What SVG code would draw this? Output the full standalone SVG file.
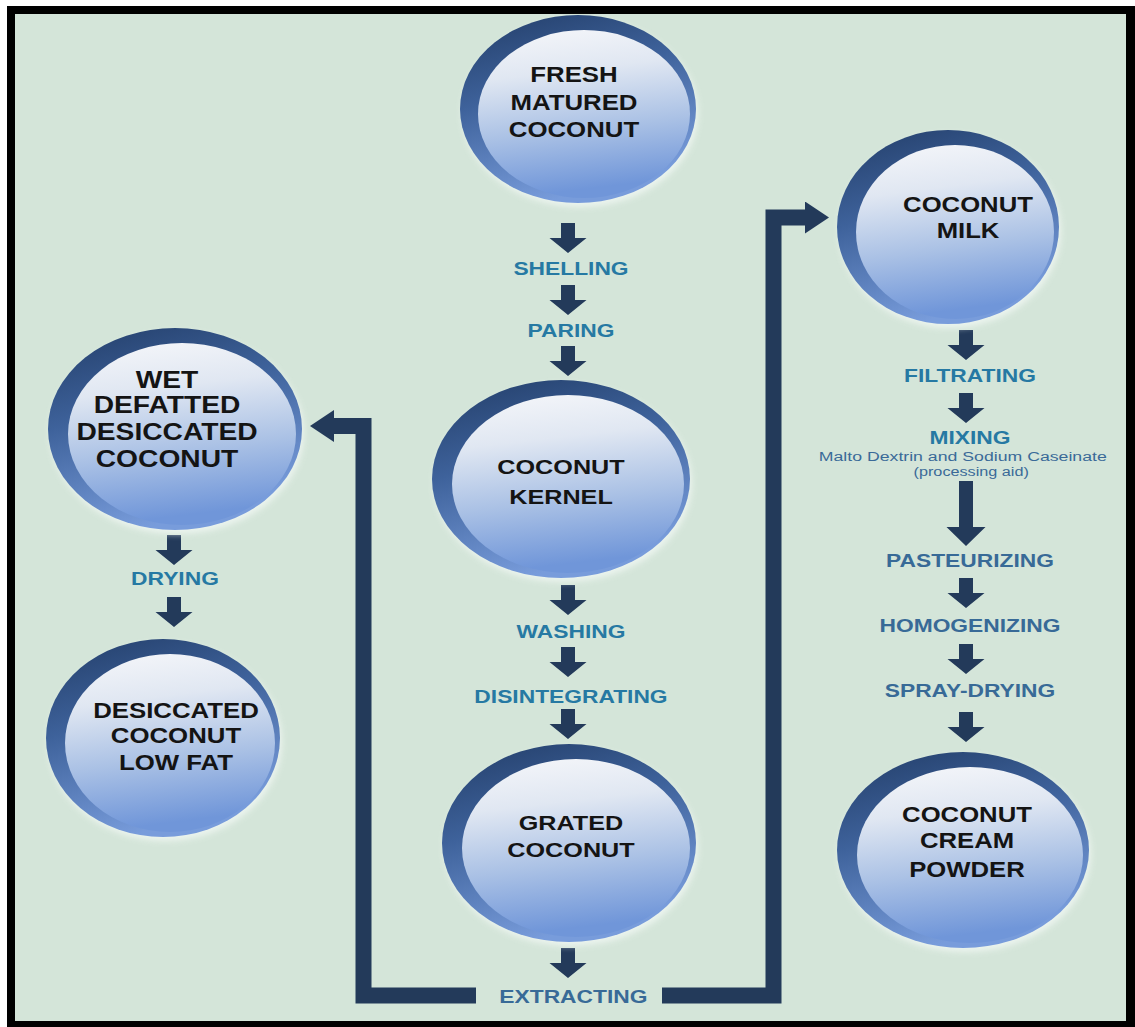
<svg xmlns="http://www.w3.org/2000/svg" width="1135" height="1027" viewBox="0 0 1135 1027">
<style>
.nt{font-family:"Liberation Sans",Arial,sans-serif;font-weight:bold;fill:#141414;text-anchor:middle}
.lb{font-family:"Liberation Sans",Arial,sans-serif;font-weight:bold;font-size:19px;fill:#2679a3;text-anchor:middle}
.lb2{font-family:"Liberation Sans",Arial,sans-serif;font-weight:bold;font-size:19px;fill:#386a97;text-anchor:middle}
.sm{font-family:"Liberation Sans",Arial,sans-serif;font-size:13.5px;fill:#3a6a98;text-anchor:middle}
.rim{fill:url(#rimG)}
.face{fill:url(#faceG)}
.glow{fill:#f2f8f4;opacity:0.8;filter:url(#blur)}
.arr{fill:#233a5a}
.conn{fill:none;stroke:#233a5a;stroke-width:16;stroke-linejoin:miter}
</style>
<defs>
<linearGradient id="rimG" x1="0" y1="0" x2="0.35" y2="1">
<stop offset="0" stop-color="#223d68"/>
<stop offset="0.45" stop-color="#3e629b"/>
<stop offset="1" stop-color="#789cdb"/>
</linearGradient>
<linearGradient id="faceG" x1="0" y1="0" x2="0.15" y2="1">
<stop offset="0" stop-color="#f6f7fa"/>
<stop offset="0.3" stop-color="#e0e7f2"/>
<stop offset="0.65" stop-color="#aac1e5"/>
<stop offset="1" stop-color="#7096d9"/>
</linearGradient>
<filter id="blur" x="-10%" y="-10%" width="120%" height="120%"><feGaussianBlur stdDeviation="3"/></filter>
<path id="dn" d="M-7,0 H7 V15 H18.5 L0,30 L-18.5,15 H-7 Z"/>
<marker id="ah" viewBox="0 0 24 32" refX="1" refY="16" markerWidth="24" markerHeight="32" markerUnits="userSpaceOnUse" orient="auto">
<path d="M0,0 L24,16 L0,32 Z" fill="#233a5a"/>
</marker>
</defs>

<rect x="0" y="0" width="1135" height="1027" fill="#ffffff"/>
<rect x="7" y="6" width="1128" height="1021" fill="#000000"/>
<rect x="15" y="14" width="1111" height="1007" fill="#d4e5d9"/>

<g id="connectors">
<polyline class="conn" points="476,995.5 363.5,995.5 363.5,426 333,426" marker-end="url(#ah)"/>
<polyline class="conn" points="662,995.5 773.5,995.5 773.5,217.5 806,217.5" marker-end="url(#ah)"/>
<use href="#dn" class="arr" x="568" y="223"/>
<use href="#dn" class="arr" x="568" y="285"/>
<use href="#dn" class="arr" x="568" y="346"/>
<use href="#dn" class="arr" x="568" y="585"/>
<use href="#dn" class="arr" x="568" y="647"/>
<use href="#dn" class="arr" x="568" y="709"/>
<use href="#dn" class="arr" x="568" y="948"/>
<use href="#dn" class="arr" x="966" y="330"/>
<use href="#dn" class="arr" x="966" y="393"/>
<path class="arr" d="M959,481 H973 V527 H985.5 L966,546 L946.5,527 H959 Z"/>
<use href="#dn" class="arr" x="966" y="578"/>
<use href="#dn" class="arr" x="966" y="644"/>
<use href="#dn" class="arr" x="966" y="712"/>
<use href="#dn" class="arr" x="174" y="535"/>
<use href="#dn" class="arr" x="174" y="597"/>
</g>

<g id="labels">
<g transform="matrix(1.2,0,0,1,-114.2,0)">
<text class="lb" x="571" y="275">SHELLING</text>
<text class="lb" x="571" y="337">PARING</text>
<text class="lb" x="571" y="638">WASHING</text>
<text class="lb" x="571" y="703">DISINTEGRATING</text>
<text class="lb2" x="573" y="1003">EXTRACTING</text>
</g>
<g transform="matrix(1.2,0,0,1,-35,0)">
<text class="lb" x="175" y="585">DRYING</text>
</g>
<g transform="matrix(1.2,0,0,1,-194,0)">
<text class="lb" x="970" y="382">FILTRATING</text>
<text class="lb" x="970" y="444">MIXING</text>
<text class="sm" x="964" y="461" textLength="240" lengthAdjust="spacingAndGlyphs">Malto Dextrin and Sodium Caseinate</text>
<text class="sm" x="971" y="476">(processing aid)</text>
<text class="lb2" x="970" y="567">PASTEURIZING</text>
<text class="lb2" x="970" y="632">HOMOGENIZING</text>
<text class="lb2" x="970" y="697">SPRAY-DRYING</text>
</g>
</g>

<g id="n-fresh">
<ellipse class="glow" cx="580" cy="113" rx="118" ry="94"/>
<ellipse class="rim" cx="578" cy="109" rx="118" ry="94"/>
<ellipse class="face" cx="584" cy="114" rx="106" ry="84"/>
<g transform="matrix(1.2,0,0,1,-114.8,0)">
<text class="nt" font-size="21.5" x="574" y="82">FRESH</text>
<text class="nt" font-size="21.5" x="574" y="110">MATURED</text>
<text class="nt" font-size="21.5" x="574" y="137">COCONUT</text>
</g>
</g>

<g id="n-milk">
<ellipse class="glow" cx="950" cy="231" rx="111" ry="97"/>
<ellipse class="rim" cx="948" cy="227" rx="111" ry="97"/>
<ellipse class="face" cx="955" cy="232" rx="99" ry="87"/>
<g transform="matrix(1.2,0,0,1,-193.6,0)">
<text class="nt" font-size="21.4" x="968" y="212">COCONUT</text>
<text class="nt" font-size="21.4" x="968" y="238">MILK</text>
</g>
</g>

<g id="n-wet">
<ellipse class="glow" cx="177" cy="433" rx="127" ry="101"/>
<ellipse class="rim" cx="175" cy="429" rx="127" ry="101"/>
<ellipse class="face" cx="182" cy="434" rx="114" ry="91"/>
<g transform="matrix(1.2,0,0,1,-33.4,0)">
<text class="nt" font-size="23.5" x="167" y="388">WET</text>
<text class="nt" font-size="23.5" x="167" y="413">DEFATTED</text>
<text class="nt" font-size="23.5" x="167" y="440">DESICCATED</text>
<text class="nt" font-size="23.5" x="167" y="467">COCONUT</text>
</g>
</g>

<g id="n-lowfat">
<ellipse class="glow" cx="165" cy="742" rx="117" ry="99"/>
<ellipse class="rim" cx="163" cy="738" rx="117" ry="99"/>
<ellipse class="face" cx="170" cy="743" rx="105" ry="89"/>
<g transform="matrix(1.2,0,0,1,-35.2,0)">
<text class="nt" font-size="21.5" x="176" y="718">DESICCATED</text>
<text class="nt" font-size="21.5" x="176" y="743">COCONUT</text>
<text class="nt" font-size="21.5" x="176" y="770">LOW FAT</text>
</g>
</g>

<g id="n-kernel">
<ellipse class="glow" cx="563" cy="483" rx="129" ry="99"/>
<ellipse class="rim" cx="561" cy="479" rx="129" ry="99"/>
<ellipse class="face" cx="568" cy="484" rx="116" ry="89"/>
<g transform="matrix(1.2,0,0,1,-112.2,0)">
<text class="nt" font-size="21" x="561" y="474">COCONUT</text>
<text class="nt" font-size="21" x="561" y="504">KERNEL</text>
</g>
</g>

<g id="n-grated">
<ellipse class="glow" cx="571" cy="847" rx="127" ry="99"/>
<ellipse class="rim" cx="569" cy="843" rx="127" ry="99"/>
<ellipse class="face" cx="576" cy="848" rx="114" ry="89"/>
<g transform="matrix(1.2,0,0,1,-114.2,0)">
<text class="nt" font-size="21" x="571" y="830">GRATED</text>
<text class="nt" font-size="21" x="571" y="857">COCONUT</text>
</g>
</g>

<g id="n-cream">
<ellipse class="glow" cx="965" cy="854" rx="126" ry="98"/>
<ellipse class="rim" cx="963" cy="850" rx="126" ry="98"/>
<ellipse class="face" cx="970" cy="855" rx="113" ry="88"/>
<g transform="matrix(1.2,0,0,1,-193.4,0)">
<text class="nt" font-size="21.4" x="967" y="822">COCONUT</text>
<text class="nt" font-size="21.4" x="967" y="848">CREAM</text>
<text class="nt" font-size="21.4" x="967" y="877">POWDER</text>
</g>
</g>
</svg>
